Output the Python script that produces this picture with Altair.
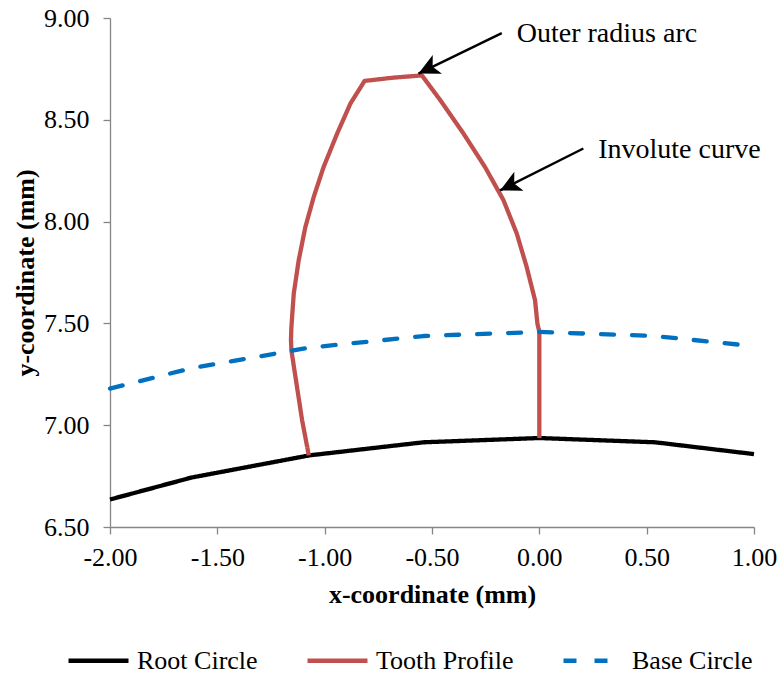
import altair as alt
import pandas as pd

series_names = ["Root Circle", "Tooth Profile", "Base Circle"]
series_colors = ["#000000", "#C0504D", "#0070C0"]

root_x = [-2.00, -1.62, -1.07, -0.54, 0.00, 0.54, 1.00]
root_y = [6.635, 6.743, 6.852, 6.916, 6.937, 6.916, 6.858]

tooth_x = [-1.074, -1.105, -1.136, -1.155, -1.157, -1.155, -1.144, -1.121, -1.090,
           -1.051, -1.005, -0.942, -0.880, -0.814, -0.680, -0.547, -0.461, -0.353,
           -0.253, -0.167, -0.105, -0.059, -0.020, -0.009, 0.000, 0.000]
tooth_y = [6.852, 7.024, 7.237, 7.368, 7.420, 7.482, 7.646, 7.810, 7.973,
           8.121, 8.268, 8.432, 8.580, 8.691, 8.707, 8.718, 8.596, 8.432,
           8.268, 8.105, 7.941, 7.777, 7.614, 7.499, 7.458, 6.937]

base_x = [-2.00, -1.62, -1.07, -0.54, 0.00, 0.54, 1.00]
base_y = [7.18, 7.28, 7.381, 7.438, 7.458, 7.438, 7.388]

x_ticks = [-2.0, -1.5, -1.0, -0.5, 0.0, 0.5, 1.0]
y_ticks = [6.5, 7.0, 7.5, 8.0, 8.5, 9.0]

ann_text = ["Outer radius arc", "Involute curve"]
ann_x = [-0.105, 0.274]
ann_y = [8.88, 8.314]
arrow_x0 = [-0.175, 0.205]
arrow_y0 = [8.926, 8.359]
arrow_x1 = [-0.563, -0.183]
arrow_y1 = [8.727, 8.153]

rows = []
for name, xs, ys in [("Root Circle", root_x, root_y),
                     ("Tooth Profile", tooth_x, tooth_y),
                     ("Base Circle", base_x, base_y)]:
    for i, (xv, yv) in enumerate(zip(xs, ys)):
        rows.append({"series": name, "x": xv, "y": yv, "idx": i})
df = pd.DataFrame(rows)

ann_df = pd.DataFrame({"text": ann_text, "tx": ann_x, "ty": ann_y,
                       "x0": arrow_x0, "y0": arrow_y0, "x1": arrow_x1, "y1": arrow_y1})

FONT = "Liberation Serif"
label_expr = "replace(format(datum.value, '.2f'), '\u2212', '-')"

xscale = alt.Scale(domain=[-2, 1], nice=False, zero=False)
yscale = alt.Scale(domain=[6.5, 9], nice=False, zero=False)

axis_common = dict(
    grid=False, domainColor="#868686", tickColor="#868686", domainWidth=1.3,
    tickWidth=1.3, tickSize=7, labelFlush=False, labelOverlap=False,
    labelFont=FONT, labelFontSize=26, labelColor="#000000",
    titleFont=FONT, titleFontSize=26, titleFontWeight="bold", titleColor="#000000",
)
xaxis = alt.Axis(values=x_ticks, labelExpr=label_expr, title="x-coordinate (mm)",
                 titleY=67, titleBaseline="middle", labelPadding=10, **axis_common)
yaxis = alt.Axis(values=y_ticks, labelExpr=label_expr, title="y-coordinate (mm)",
                 titleX=-85, titleBaseline="middle", labelPadding=14, **axis_common)

legend_common = dict(title=None, orient="none", legendX=-44, legendY=610,
                     direction="horizontal", symbolType="stroke",
                     symbolSize=3600, symbolStrokeWidth=4.3,
                     labelFont=FONT, labelFontSize=26, labelColor="#000000",
                     labelOffset=6, columnPadding=40, padding=0)
color = alt.Color("series:N",
                  scale=alt.Scale(domain=series_names, range=series_colors),
                  legend=alt.Legend(**legend_common))
dash = alt.StrokeDash("series:N",
                      scale=alt.Scale(domain=series_names, range=[[1, 0], [1, 0], [13, 18]]),
                      legend=alt.Legend(**legend_common))

base = alt.Chart(df)

def series_layer(name, cap):
    return base.transform_filter(alt.datum.series == name).mark_line(
        strokeWidth=4.3, strokeCap=cap, strokeJoin="round"
    ).encode(
        x=alt.X("x:Q", scale=xscale, axis=xaxis),
        y=alt.Y("y:Q", scale=yscale, axis=yaxis),
        color=color,
        strokeDash=dash,
        order="idx:Q",
    )

root_layer = series_layer("Root Circle", "butt")
tooth_layer = series_layer("Tooth Profile", "butt")
base_layer = series_layer("Base Circle", "round")

ann = alt.Chart(ann_df)
shafts = ann.mark_rule(color="#000000", strokeWidth=2.5).encode(
    x=alt.X("x0:Q", scale=xscale), y=alt.Y("y0:Q", scale=yscale),
    x2="x1:Q", y2="y1:Q")
heads = ann.mark_point(shape="M0,0 L1,2 L0,1.5 L-1,2 Z", filled=True, opacity=1,
                       color="#000000", size=441, angle=244, strokeWidth=0).encode(
    x=alt.X("x1:Q", scale=xscale), y=alt.Y("y1:Q", scale=yscale))
texts = ann.mark_text(align="left", baseline="alphabetic", font=FONT, fontSize=28,
                      color="#000000").encode(
    x=alt.X("tx:Q", scale=xscale), y=alt.Y("ty:Q", scale=yscale), text="text:N")

chart = alt.layer(root_layer, tooth_layer, base_layer, shafts, heads, texts).properties(
    width=644, height=509,
    autosize=alt.AutoSizeParams(type="none"),
    padding={"left": 110, "top": 18, "right": 23, "bottom": 146},
    background="#ffffff",
).configure(
    font=FONT,
).configure_view(
    strokeWidth=0
)

# Page template: the standard Altair page plus a stylesheet that pins every
# SVG text of the chart to the serif family used in the reference.
CSS = ('<style>.vega-embed svg text { font-family: "Liberation Serif", '
       '"Times New Roman", serif !important; }</style>')


class StyledTemplate:
    def __init__(self, base_template, css):
        self.base_template = base_template
        self.css = css

    def render(self, *args, **kwargs):
        out = self.base_template.render(*args, **kwargs)
        return out.replace("</head>", self.css + "\n</head>", 1)


try:
    from altair.utils.html import TEMPLATES
    tmpl = StyledTemplate(TEMPLATES["standard"], CSS)
    chart.save("out.html", embed_options={"renderer": "svg", "actions": False},
               template=tmpl)
except Exception:
    chart.save("out.html", embed_options={"renderer": "svg", "actions": False})
